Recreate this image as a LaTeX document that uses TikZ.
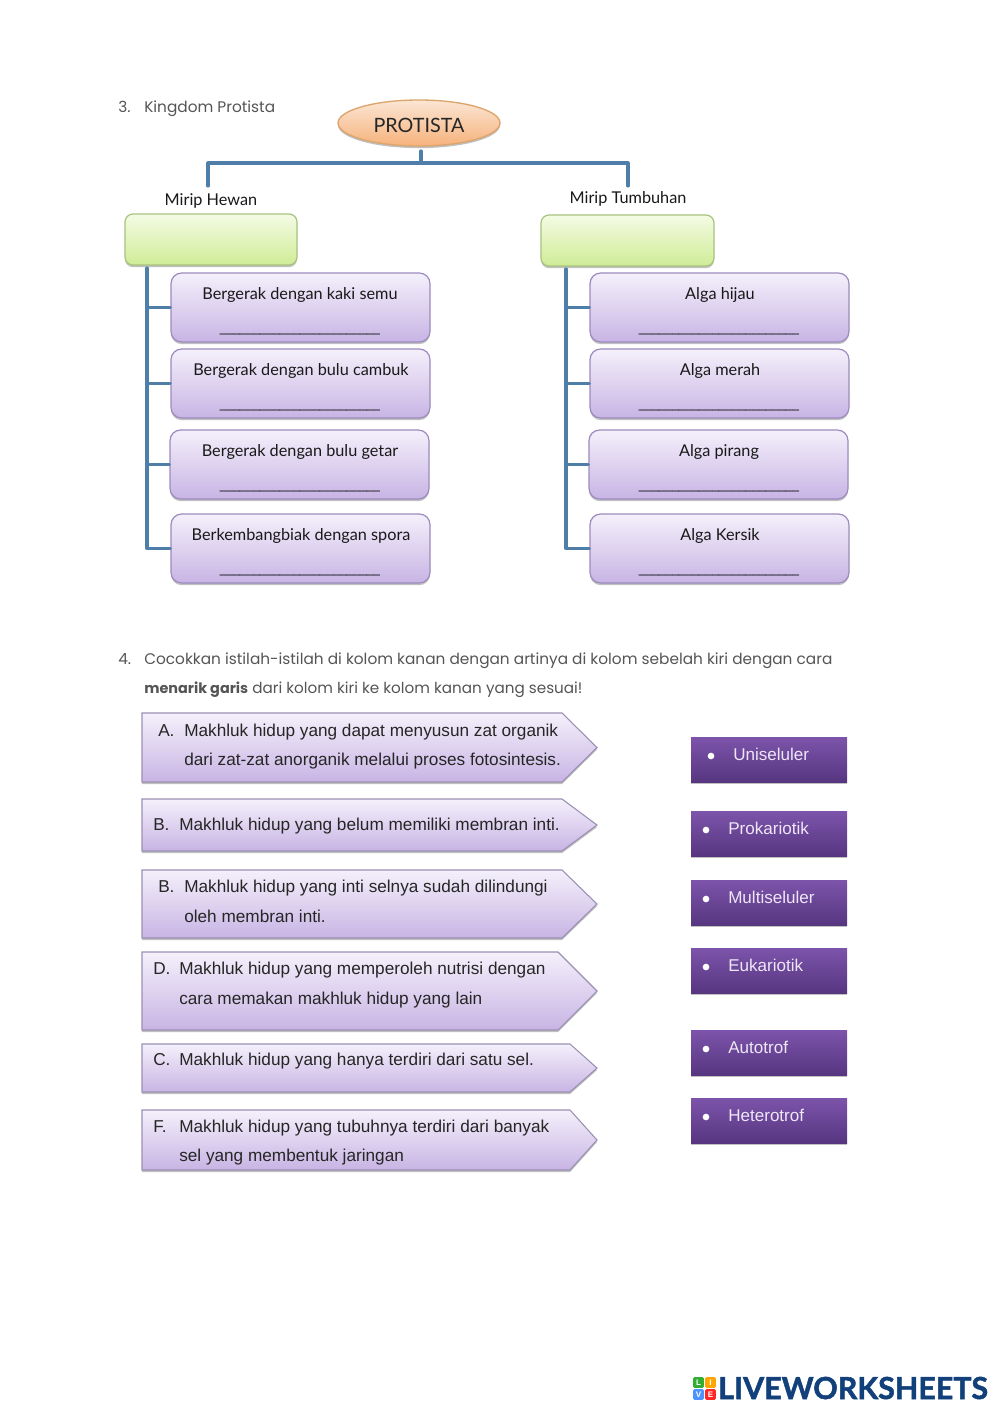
\documentclass[tikz,border=0pt]{standalone}
\usepackage{fontspec}
\usetikzlibrary{shadows,shapes.geometric,fit,calc}
\setmainfont{Liberation Sans}
\newfontfamily\gothic{Poppins}
\newfontfamily\comic{Lato}
\newfontfamily\logofont[BoldFeatures={FakeBold=1.6}]{Lato}
\definecolor{linkblue}{HTML}{4F7FA8}
\definecolor{titlegrey}{HTML}{555555}
\definecolor{eggtop}{HTML}{FBE6D4}
\definecolor{eggbot}{HTML}{F6B27C}
\definecolor{eggline}{HTML}{DDA46C}
\definecolor{greentop}{HTML}{F4FBE4}
\definecolor{greenbot}{HTML}{CFEC96}
\definecolor{greenline}{HTML}{A9C27E}
\definecolor{liltop}{HTML}{F4F0FB}
\definecolor{lilbot}{HTML}{C8B4E4}
\definecolor{lilline}{HTML}{9C8BBE}
\definecolor{pentline}{HTML}{9A90B4}
\definecolor{darktop}{HTML}{7C54AB}
\definecolor{darkmid}{HTML}{6D4599}
\definecolor{darkbot}{HTML}{573680}
\definecolor{paletext}{HTML}{EEE6F6}
\definecolor{logoblue}{HTML}{12407A}
\tikzset{
  softshadow/.style={drop shadow={shadow xshift=0pt,shadow yshift=-1.6pt,opacity=.35,fill=black!70}},
  eggnode/.style={ellipse,draw=eggline,line width=1pt,top color=eggtop,bottom color=eggbot,softshadow,inner sep=0pt,minimum width=121.5pt,minimum height=34.5pt},
  greenbox/.style={rounded corners=6pt,draw=greenline,line width=.9pt,top color=greentop,bottom color=greenbot,softshadow,inner sep=0pt},
  lilacbox/.style={rounded corners=8pt,draw=lilline,line width=.9pt,top color=liltop,bottom color=lilbot,softshadow,inner sep=0pt},
  pentashape/.style={draw=pentline,line width=.8pt,top color=liltop,bottom color=lilbot,softshadow},
  darkbox/.style={top color=darktop,middle color=darkmid,bottom color=darkbot,softshadow,inner sep=0pt},
  link/.style={draw=linkblue,line width=2.3pt,line cap=round},
  title/.style={anchor=base west,inner sep=0pt,font=\gothic\fontsize{11.5}{14}\selectfont,text=titlegrey},
  handtext/.style={anchor=base,inner sep=0pt,font=\comic\fontsize{12.2}{14}\selectfont,text=black!90},
  blank/.style={anchor=base,inner sep=0pt,font=\fontsize{9}{10}\selectfont,text=black},
  armtext/.style={anchor=base west,inner sep=0pt,font=\fontsize{12.9}{14}\selectfont,text=black!85},
  whitetext/.style={anchor=base west,inner sep=0pt,font=\fontsize{12.8}{14}\selectfont,text=paletext},
  bulletdot/.style={circle,fill=white,inner sep=0pt,minimum size=5pt},
  tile/.style={inner sep=0pt,minimum size=8pt,rounded corners=1pt,text=white,font=\bfseries\fontsize{6}{6}\selectfont},
}
\newcommand\lilac[6]{%
  \node[lilacbox,fit={(#2,#3)(#2+259,#3+69)}] (#1) {};
  \node[handtext] (#1t) at (#4,#3+26.5) {#5};
  \node[blank] (#1u) at (#6,#3+59) {\_\_\_\_\_\_\_\_\_\_\_\_\_\_\_\_\_\_\_\_\_\_\_\_};
}
\newcommand\penta[4]{% y0 y1 neckx name
  \path[pentashape] (142,#1) -- (#3,#1) -- (597,{(#1+#2)/2}) -- (#3,#2) -- (142,#2) -- cycle;
  \coordinate (#4) at (142,#1);
}
\newcommand\purplebox[4]{% name y text textx
  \node[darkbox,fit={(691,#2)(847,#2+45)}] (#1) {};
  \node[bulletdot] (#1d) at (#4-22,#2+19) {};
  \node[whitetext] (#1t) at (#4,#2+23) {#3};
}
\begin{document}
\begin{tikzpicture}[x=.75pt,y=-.75pt]
\useasboundingbox[fill=white] (0,0) rectangle (999,1413);
% section 3
\node[title] (n3) at (118,113) {3.};
\node[title] (kp) at (144,113) {Kingdom Protista};
\node[eggnode] (protista) at (419,123) {};
\node[inner sep=0pt,font=\comic\fontsize{14.8}{16}\selectfont,text=black!85] (ptxt) at (419,125) {PROTISTA};
\node[handtext] (hewan) at (211,205) {Mirip Hewan};
\node[handtext] (tumbuhan) at (628,203) {Mirip Tumbuhan};
\coordinate (bus) at (421,163);
\coordinate (busl) at (208,163);
\coordinate (busr) at (628,163);
\coordinate (dropl) at (208,186);
\coordinate (dropr) at (628,186);
\coordinate (stemtop) at (421,151);
\draw[link] (stemtop) -- (bus);
\draw[link,line join=round] (dropl) -- (busl) -- (busr) -- (dropr);
\coordinate (tl) at (147,268);
\coordinate (tr) at (566,269);
\node[greenbox,fit={(125,214)(297,265)}] (gl) {};
\node[greenbox,fit={(541,215)(714,266)}] (gr) {};
\lilac{a}{171}{273}{300}{Bergerak dengan kaki semu}{300}
\lilac{b}{171}{349}{301}{Bergerak dengan bulu cambuk}{300}
\lilac{c}{170}{430}{300}{Bergerak dengan bulu getar}{300}
\lilac{d}{171}{514}{301}{Berkembangbiak dengan spora}{300}
\lilac{e}{590}{273}{720}{Alga hijau}{719}
\lilac{f}{590}{349}{720}{Alga merah}{719}
\lilac{g}{589}{430}{719}{Alga pirang}{719}
\lilac{h}{590}{514}{720}{Alga Kersik}{719}
\draw[link,line join=round] (tl) -- (a.west -| tl) -- (b.west -| tl) -- (c.west -| tl) -- (d.west -| tl) -- (d.west);
\draw[link] (a.west -| tl) -- (a.west);
\draw[link] (b.west -| tl) -- (b.west);
\draw[link] (c.west -| tl) -- (c.west);
\draw[link,line join=round] (tr) -- (e.west -| tr) -- (f.west -| tr) -- (g.west -| tr) -- (h.west -| tr) -- (h.west);
\draw[link] (e.west -| tr) -- (e.west);
\draw[link] (f.west -| tr) -- (f.west);
\draw[link] (g.west -| tr) -- (g.west);
% section 4
\node[title] (n4) at (118,664) {4.};
\node[title] (q1) at (144,664) {Cocokkan istilah-istilah di kolom kanan dengan artinya di kolom sebelah kiri dengan cara};
\node[title,font=\gothic\fontsize{11.4}{14}\selectfont] (q2) at (144,693) {{\bfseries\fontsize{10.8}{14}\selectfont menarik garis} dari kolom kiri ke kolom kanan yang sesuai!};
\penta{713}{782}{562}{p1}
\penta{799}{851}{562}{p2}
\penta{870}{938}{562}{p3}
\penta{952}{1030}{558}{p4}
\penta{1044}{1092}{570}{p5}
\penta{1110}{1170}{570}{p6}
\node[armtext] (p1a) at (158,736) {A.};
\node[armtext] (p1b) at (184,736) {Makhluk hidup yang dapat menyusun zat organik};
\node[armtext] (p1c) at (184,765) {dari zat-zat anorganik melalui proses fotosintesis.};
\node[armtext] (p2a) at (153,830) {B.};
\node[armtext] (p2b) at (179,830) {Makhluk hidup yang belum memiliki membran inti.};
\node[armtext] (p3a) at (158,892) {B.};
\node[armtext] (p3b) at (184,892) {Makhluk hidup yang inti selnya sudah dilindungi};
\node[armtext] (p3c) at (184,922) {oleh membran inti.};
\node[armtext] (p4a) at (153,974) {D.};
\node[armtext] (p4b) at (179,974) {Makhluk hidup yang memperoleh nutrisi dengan};
\node[armtext] (p4c) at (179,1004) {cara memakan makhluk hidup yang lain};
\node[armtext] (p5a) at (153,1065) {C.};
\node[armtext] (p5b) at (179,1065) {Makhluk hidup yang hanya terdiri dari satu sel.};
\node[armtext] (p6a) at (153,1132) {F.};
\node[armtext] (p6b) at (179,1132) {Makhluk hidup yang tubuhnya terdiri dari banyak};
\node[armtext] (p6c) at (179,1161) {sel yang membentuk jaringan};
\purplebox{k1}{737}{Uniseluler}{733}
\purplebox{k2}{811}{Prokariotik}{728}
\purplebox{k3}{880}{Multiseluler}{728}
\purplebox{k4}{948}{Eukariotik}{728}
\purplebox{k5}{1030}{Autotrof}{728}
\purplebox{k6}{1098}{Heterotrof}{728}
% logo
\node[tile,fill=green!60!black!80] (l1) at (698.5,1382.5) {L};
\node[tile,fill=orange!70!yellow] (l2) at (710.5,1382.5) {I};
\node[tile,fill=blue!60!cyan!70] (l3) at (698.5,1394.5) {V};
\node[tile,fill=red!80!pink] (l4) at (710.5,1394.5) {E};
\node[anchor=base west,inner sep=0pt,text=logoblue,font=\logofont\bfseries\fontsize{22.8}{24}\selectfont] (logo) at (718,1399) {LIVEWORKSHEETS};
\end{tikzpicture}
\end{document}
